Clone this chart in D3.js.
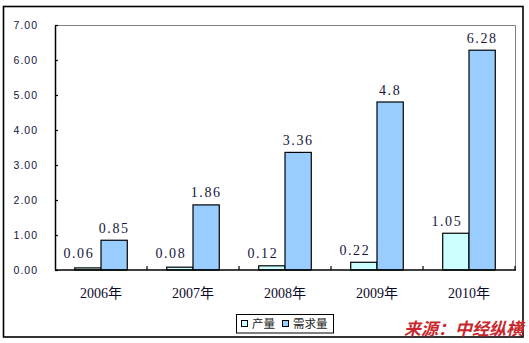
<!DOCTYPE html>
<html>
<head>
<meta charset="utf-8">
<script src="https://cdn.jsdelivr.net/npm/d3@7"></script>
<style>
  html, body { margin: 0; padding: 0; background: #fff; }
  svg { display: block; }
</style>
</head>
<body>
<svg id="chart" width="529" height="343"></svg>
<script>
// Output vs demand, 2006–2010
const years = ["2006年", "2007年", "2008年", "2009年", "2010年"];
const seriesNames = ["产量", "需求量"];
const output = [0.06, 0.08, 0.12, 0.22, 1.05];
const demand = [0.85, 1.86, 3.36, 4.8, 6.28];
const yTicks = [0, 1, 2, 3, 4, 5, 6, 7];
const sourceText = "来源：中经纵横";

const colors = ["#CCFFFF", "#99CCFF"];
const seriesValues = [output, demand];

const svg = d3.select("#chart");
const plot = { left: 55, right: 515, top: 25, bottom: 270 };

// outer frame
svg.append("rect")
  .attr("x", 3.5).attr("y", 6.5)
  .attr("width", 519.5).attr("height", 330.5)
  .attr("fill", "none").attr("stroke", "#000").attr("stroke-width", 1.6);

const x = d3.scaleBand().domain(years).range([plot.left, plot.right]).padding(0);
const xs = d3.scaleBand().domain([0, 1]).range([0, x.bandwidth()])
  .paddingInner(0).paddingOuter(0.75);
const y = d3.scaleLinear().domain([0, 7]).range([plot.bottom, plot.top]);

// plot area border (top and right)
svg.append("path")
  .attr("d", `M${plot.left},${plot.top + 0.5}H${plot.right + 0.5}V${plot.bottom}`)
  .attr("fill", "none").attr("stroke", "#808080").attr("stroke-width", 1);

// bars
years.forEach((yr, i) => {
  seriesValues.forEach((vals, s) => {
    const v = vals[i];
    svg.append("rect")
      .attr("x", x(yr) + xs(s))
      .attr("y", y(v))
      .attr("width", xs.bandwidth())
      .attr("height", y(0) - y(v))
      .attr("fill", colors[s])
      .attr("stroke", "#000")
      .attr("stroke-width", 1.2);
  });
});

// value labels
years.forEach((yr, i) => {
  seriesValues.forEach((vals, s) => {
    const v = vals[i];
    const cx = x(yr) + xs(s) + xs.bandwidth() / 2 + (s === 0 ? -9 : 0);
    const by = Math.min(y(v) - 7.5, 257.5);
    svg.append("text")
      .attr("x", cx).attr("y", by)
      .attr("text-anchor", "middle")
      .attr("font-family", "'Liberation Serif', 'DejaVu Serif', serif")
      .attr("font-size", 14)
      .attr("letter-spacing", 1.6)
      .attr("fill", "#16163a")
      .text(String(v));
  });
});

// y axis
const yAxis = d3.axisLeft(y).tickValues(yTicks).tickFormat(d3.format(".2f"))
  .tickSizeInner(-3).tickSizeOuter(0).tickPadding(17);
const gy = svg.append("g").attr("transform", `translate(${plot.left},0)`).call(yAxis);
gy.select(".domain").attr("stroke", "#000").attr("stroke-width", 1.5);
gy.selectAll(".tick line").attr("stroke", "#000").attr("stroke-width", 1.2);
gy.selectAll(".tick text")
  .attr("font-family", "'Liberation Sans', Arial, sans-serif")
  .attr("font-size", 10.5)
  .attr("letter-spacing", 1)
  .attr("fill", "#14143c");

// x axis baseline and category separators
svg.append("line")
  .attr("x1", plot.left).attr("x2", plot.right + 1)
  .attr("y1", plot.bottom).attr("y2", plot.bottom)
  .attr("stroke", "#000").attr("stroke-width", 1.5);
years.slice(1).forEach(yr => {
  svg.append("line")
    .attr("x1", x(yr)).attr("x2", x(yr))
    .attr("y1", plot.bottom).attr("y2", plot.bottom - 4)
    .attr("stroke", "#000").attr("stroke-width", 1.2);
});
svg.append("line")
  .attr("x1", plot.right).attr("x2", plot.right)
  .attr("y1", plot.bottom).attr("y2", plot.bottom - 4)
  .attr("stroke", "#000").attr("stroke-width", 1.2);

svg.selectAll(".xlab").data(years).enter().append("text")
  .attr("class", "xlab")
  .attr("x", d => x(d) + x.bandwidth() / 2)
  .attr("y", 298)
  .attr("text-anchor", "middle")
  .attr("font-family", "'Liberation Serif', 'Noto Sans CJK SC', serif")
  .attr("font-size", 14)
  .attr("fill", "#0a0a2a")
  .text(d => d);

// legend
const lg = svg.append("g");
lg.append("rect")
  .attr("x", 236.5).attr("y", 314.5).attr("width", 97).attr("height", 18.5)
  .attr("fill", "#fff").attr("stroke", "#000").attr("stroke-width", 1);
const legendX = [241, 282];
seriesNames.forEach((name, s) => {
  lg.append("rect")
    .attr("x", legendX[s] + 0.5).attr("y", 320.5).attr("width", 6).attr("height", 6)
    .attr("fill", colors[s]).attr("stroke", "#000").attr("stroke-width", 1);
  lg.append("text")
    .attr("x", legendX[s] + 11).attr("y", 328)
    .attr("font-family", "'Noto Sans CJK SC', sans-serif")
    .attr("font-size", 11.5)
    .attr("fill", "#222")
    .text(name);
});

// source note
svg.append("text")
  .attr("x", 523).attr("y", 335)
  .attr("text-anchor", "end")
  .attr("font-family", "'Noto Sans CJK SC', sans-serif")
  .attr("font-size", 17)
  .attr("font-weight", "bold")
  .attr("font-style", "italic")
  .attr("fill", "#C8282D")
  .text(sourceText);
</script>
</body>
</html>
